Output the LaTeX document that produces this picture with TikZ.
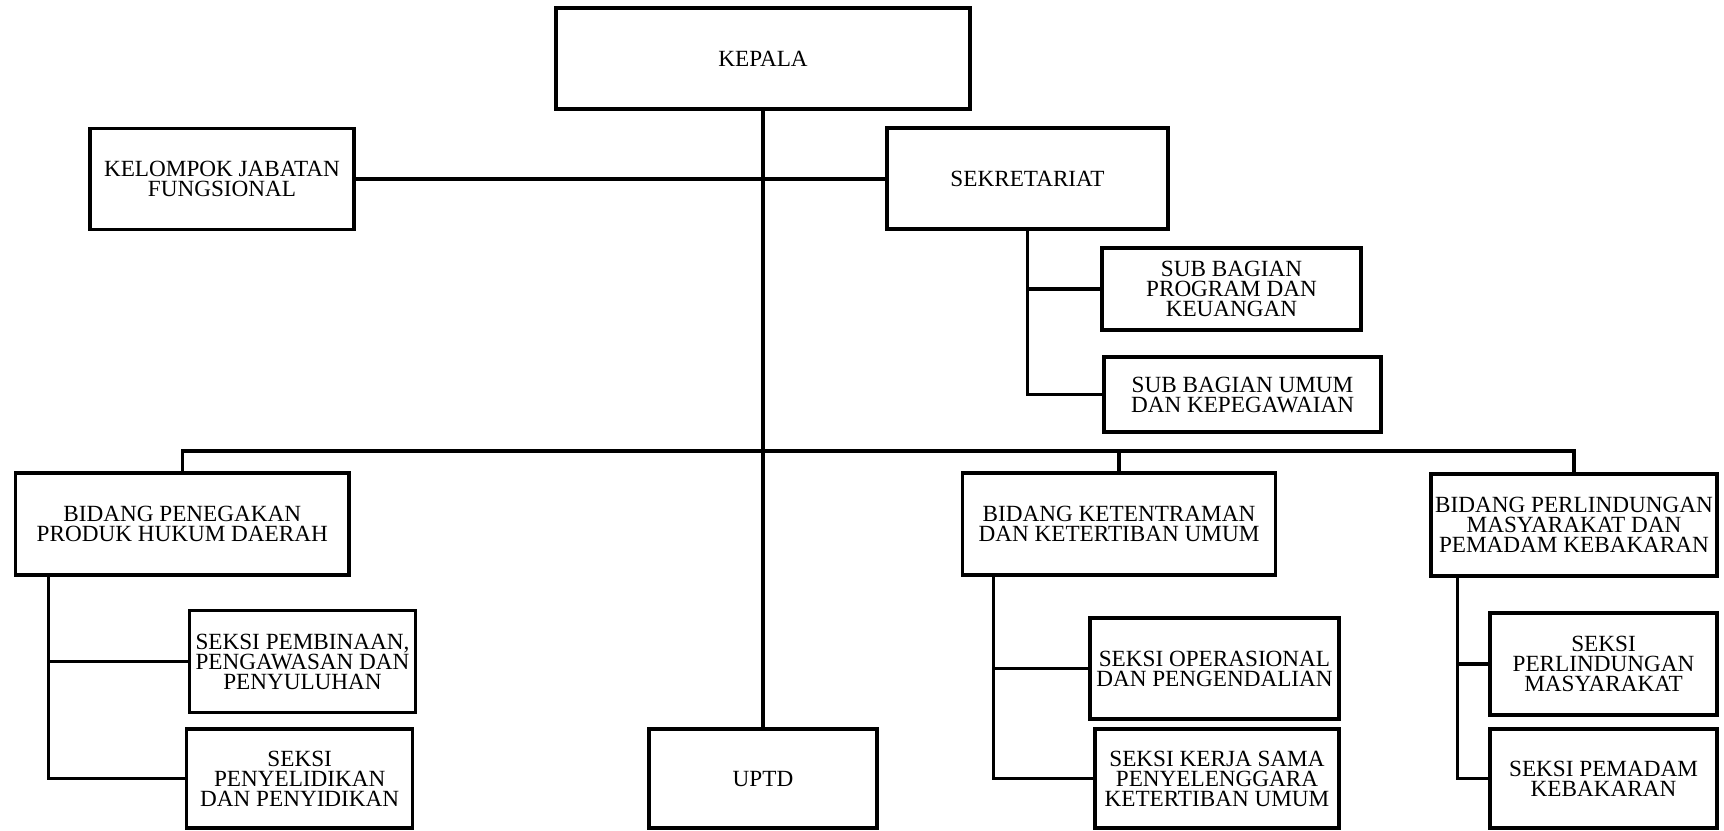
\documentclass[tikz,border=0pt]{standalone}
\usepackage{fontspec}
\setmainfont{Liberation Serif}
\usepackage{tikz}
\usetikzlibrary{positioning, calc}

\begin{document}
\begin{tikzpicture}[
					unit/.style={draw, line width=1pt, align=center, inner sep=0pt,
						font=\fontsize{6.6}{5.7}\selectfont},
					link/.style={line width=0.9pt}
					]
					\useasboundingbox (0,0) rectangle (17.24,-8.30);
					\node[unit, minimum width=4.14cm, minimum height=1.01cm] (kepala) at (7.63,-0.585) {KEPALA};
					\node[unit, minimum width=2.64cm, minimum height=1.01cm] (kjf) at (2.22,-1.79) {KELOMPOK JABATAN\\FUNGSIONAL};
					\node[unit, minimum width=2.81cm, minimum height=1.01cm] (sekretariat) at (10.275,-1.785) {SEKRETARIAT};
					\node[unit, minimum width=2.59cm, minimum height=0.82cm] (subprog) at (12.315,-2.89) {SUB BAGIAN\\PROGRAM DAN\\KEUANGAN};
					\node[unit, minimum width=2.77cm, minimum height=0.75cm] (subumum) at (12.425,-3.945) {SUB BAGIAN UMUM\\DAN KEPEGAWAIAN};
					\node[unit, minimum width=3.335cm, minimum height=1.02cm] (penegakan) at (1.823,-5.24) {BIDANG PENEGAKAN\\PRODUK HUKUM DAERAH};
					\node[unit, minimum width=2.26cm, minimum height=1.02cm] (pembinaan) at (3.025,-6.617) {SEKSI PEMBINAAN,\\PENGAWASAN DAN\\PENYULUHAN};
					\node[unit, minimum width=2.26cm, minimum height=0.99cm] (penyelidikan) at (2.997,-7.785) {SEKSI\\PENYELIDIKAN\\DAN PENYIDIKAN};
					\node[unit, minimum width=2.28cm, minimum height=0.99cm] (uptd) at (7.63,-7.785) {UPTD};
					\node[unit, minimum width=3.13cm, minimum height=1.02cm] (ketentraman) at (11.19,-5.24) {BIDANG KETENTRAMAN\\DAN KETERTIBAN UMUM};
					\node[unit, minimum width=2.49cm, minimum height=1.01cm] (operasional) at (12.145,-6.685) {SEKSI OPERASIONAL\\DAN PENGENDALIAN};
					\node[unit, minimum width=2.44cm, minimum height=0.99cm] (kerjasama) at (12.17,-7.785) {SEKSI KERJA SAMA\\PENYELENGGARA\\KETERTIBAN UMUM};
					\node[unit, minimum width=2.86cm, minimum height=1.02cm] (perlindungan) at (15.74,-5.25) {BIDANG PERLINDUNGAN\\MASYARAKAT DAN\\PEMADAM KEBAKARAN};
					\node[unit, minimum width=2.27cm, minimum height=1.02cm] (linmas) at (16.035,-6.64) {SEKSI\\PERLINDUNGAN\\MASYARAKAT};
					\node[unit, minimum width=2.27cm, minimum height=0.99cm] (pemadam) at (16.035,-7.785) {SEKSI PEMADAM\\KEBAKARAN};

					\coordinate (bus) at (7.63,-4.51);
					\coordinate (pphd) at ([xshift=0.35cm]penegakan.south west);
					\coordinate (ktu) at ([xshift=0.33cm]ketentraman.south west);
					\coordinate (pmpk) at ([xshift=0.28cm]perlindungan.south west);

					\draw[link] (kepala.south) -- (uptd.north);
					\draw[link] (kjf.east) -- (kjf.east -| sekretariat.west);
					\draw[link] (sekretariat.south) |- (subumum.west);
					\draw[link] (subprog.west) -- (subprog.west -| sekretariat.south);
					\draw[link] (penegakan.north) |- (bus) -| (perlindungan.north);
					\draw[link] (ketentraman.north) -- (ketentraman.north |- bus);
					\draw[link] (pphd) |- (penyelidikan.west);
					\draw[link] (pembinaan.west) -- (pembinaan.west -| pphd);
					\draw[link] (ktu) |- (kerjasama.west);
					\draw[link] (operasional.west) -- (operasional.west -| ktu);
					\draw[link] (pmpk) |- (pemadam.west);
					\draw[link] (linmas.west) -- (linmas.west -| pmpk);
				\end{tikzpicture}
\end{document}
